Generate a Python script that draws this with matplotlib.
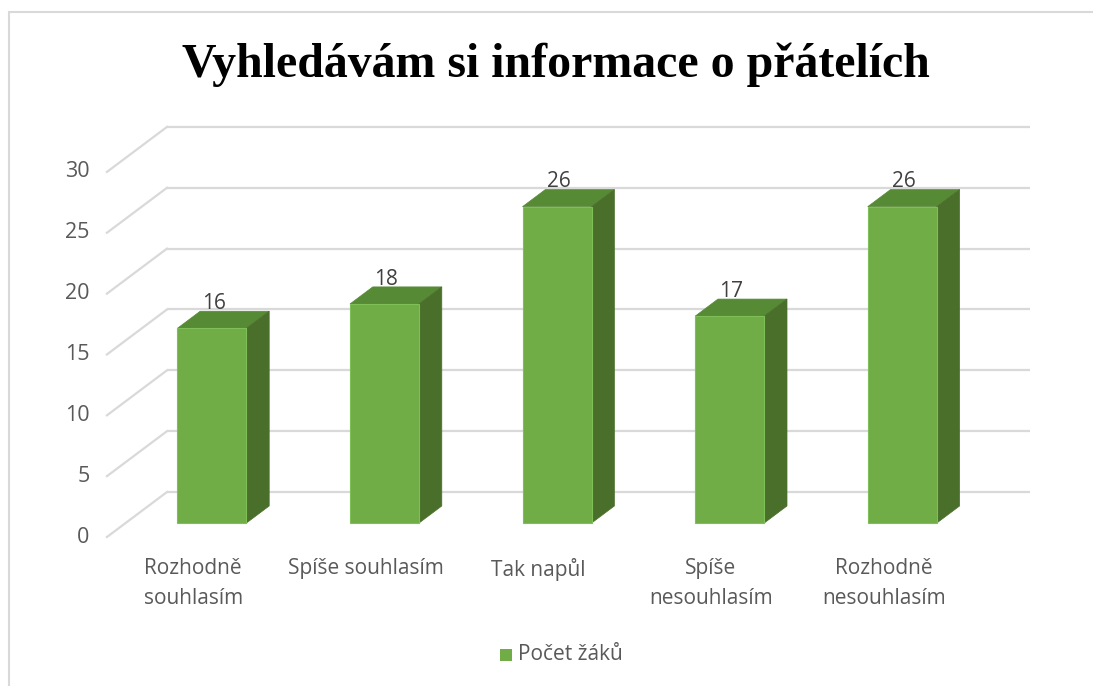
import numpy as np
import matplotlib
matplotlib.use('Agg')
import matplotlib.pyplot as plt
from matplotlib.patches import Polygon, Rectangle

# data
categories = ['Rozhodně\nsouhlasím', 'Spíše souhlasím', 'Tak napůl', 'Spíše\nnesouhlasím', 'Rozhodně\nnesouhlasím']
values = [16, 18, 26, 17, 26]
yticks = [0, 5, 10, 15, 20, 25, 30]
title = 'Vyhledávám si informace o přátelích'
series_name = 'Počet žáků'

# oblique 3d look: depth offset (front -> back) in data units
DX = 0.348
DY = 3.7
d_front, d_back = 0.31, 0.69   # bar depth range (0 = front plane, 1 = back wall)
bar_w = 0.40

c_front = '#70ad47'
c_top = '#568a35'
c_side = '#4a6f2a'
grid_c = '#d9d9d9'
txt_c = '#595959'
fs = 15

plt.rcParams['font.family'] = ['Open Sans', 'DejaVu Sans']

fig = plt.figure(figsize=(10.93, 6.86), dpi=100)
ax = fig.add_axes([100/1093, 1 - 545/686, 940/1093, 425/686])
ax.set_xlim(-0.5 - 67/172.6, 4.5 + 10/172.6)
ax.set_ylim(-53/12.17, 372/12.17)
ax.axis('off')

def proj(x, y, d):
    # point at depth d -> 2d data coords (back wall is d=1)
    return (x - (1 - d) * DX, y - (1 - d) * DY)

# gridlines: back wall + left floor/side diagonal
for v in yticks:
    ax.plot([-0.5, 4.5], [v, v], color=grid_c, lw=1.6, zorder=1, solid_capstyle='butt')
    x0, y0 = proj(-0.5, v, 0)
    ax.plot([x0, -0.5], [y0, v], color=grid_c, lw=1.6, zorder=1)
    ax.text(x0 - 0.1, y0, str(v), ha='right', va='center', fontsize=fs + 0.5, color=txt_c)

for i, v in enumerate(values):
    l, r = i - bar_w / 2, i + bar_w / 2
    fl = proj(l, 0, d_front); fr = proj(r, 0, d_front)
    tl = proj(l, v, d_front); tr = proj(r, v, d_front)
    btl = proj(l, v, d_back); btr = proj(r, v, d_back)
    bbr = proj(r, 0, d_back)
    ax.add_patch(Polygon([tl, tr, btr, btl], closed=True, fc=c_top, ec=c_top, lw=0.5, zorder=3))
    ax.add_patch(Polygon([fr, tr, btr, bbr], closed=True, fc=c_side, ec=c_side, lw=0.5, zorder=3))
    ax.add_patch(Polygon([fl, fr, tr, tl], closed=True, fc=c_front, ec='#7fbf58', lw=0.8, zorder=4))
    cx = (l + r) / 2 - (1 - d_front) * DX
    ax.text(cx + 0.01, v - 0.5, str(v), ha='center', va='center', fontsize=fs, color='#404040', zorder=5)
    lx, ly = proj(i, 0, 0)
    ax.text(lx, ly - 1.75, categories[i], ha='center', va='top', fontsize=fs, color=txt_c, linespacing=1.55)

fig.text(556/1093, 1 - 77/686, title, ha='center', va='baseline', fontsize=34.5,
         fontweight='bold', family='Liberation Serif', color='black')

# legend
fig.patches.append(Rectangle((500/1093, 1 - 661/686), 12/1093, 12/686, transform=fig.transFigure,
                             fc=c_front, ec='none'))
fig.text(518/1093, 1 - 655/686, series_name, ha='left', va='center', fontsize=fs, color=txt_c)

# chart border
fig.patches.append(Rectangle((8.5/1093, -0.1), 1.2, 1 - 12.5/686 + 0.1, transform=fig.transFigure,
                             fc='none', ec=grid_c, lw=1.5))

fig.savefig('out.png', dpi=100)
